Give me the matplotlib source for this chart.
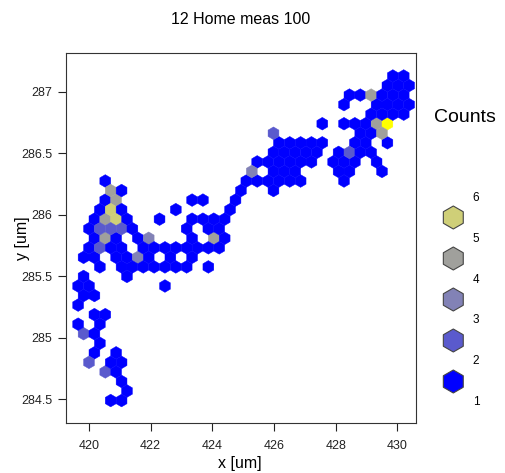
import numpy as np
import matplotlib
matplotlib.use("Agg")
import matplotlib.pyplot as plt
from matplotlib.colors import ListedColormap, BoundaryNorm
from matplotlib.patches import RegularPolygon

plt.rcParams['font.family'] = ['Liberation Sans', 'DejaVu Sans']

# hexagon cells: one row of cells per y value (um)
row_y = [287.13, 287.05, 286.97, 286.89, 286.82, 286.74, 286.66, 286.58,
         286.51, 286.43, 286.35, 286.27, 286.19, 286.12, 286.04, 285.96,
         285.88, 285.81, 285.73, 285.65, 285.57, 285.50, 285.42, 285.34,
         285.26, 285.19, 285.11, 285.03, 284.95, 284.88, 284.80, 284.72,
         284.64, 284.57, 284.49]
# x of the cells holding 1 count in each row
row_x = [
    [429.86, 430.21],
    [429.68, 430.03, 430.38],
    [428.45, 428.80, 429.50, 429.86, 430.21],
    [428.27, 429.33, 429.68, 430.03, 430.38],
    [429.15, 429.50, 429.86, 430.21],
    [427.57, 428.27, 428.62, 428.98],
    [428.80, 429.15],
    [426.16, 426.51, 426.86, 427.22, 427.57, 428.62, 428.98, 429.68],
    [425.98, 426.34, 426.69, 427.04, 427.39, 428.10, 428.80, 429.15],
    [425.46, 425.81, 426.16, 426.51, 426.86, 427.22, 427.92, 428.27, 428.62, 429.33],
    [425.98, 426.34, 426.69, 428.10, 428.45, 429.50],
    [420.53, 425.10, 425.46, 425.81, 426.16, 426.51, 426.86, 428.27],
    [421.06, 424.93, 425.98],
    [420.53, 423.34, 423.70, 424.75],
    [420.35, 421.06, 422.82, 424.58],
    [420.18, 421.23, 422.29, 423.34, 423.70, 424.05, 424.40],
    [420.00, 421.41, 423.17, 423.87, 424.22],
    [420.18, 420.88, 421.58, 423.34, 424.40],
    [420.00, 420.70, 421.06, 421.76, 422.11, 422.46, 422.82, 423.17, 423.52, 423.87, 424.22],
    [419.82, 420.18, 420.88, 421.23, 421.94, 422.64, 423.34],
    [420.35, 421.06, 421.41, 421.76, 422.11, 422.46, 422.82, 423.17, 423.87],
    [419.82, 421.23],
    [419.65, 420.00, 422.46],
    [419.82, 420.18],
    [419.65],
    [420.18, 420.53],
    [419.65, 420.35],
    [420.18],
    [420.35],
    [420.18, 420.88],
    [420.70, 421.06],
    [420.88],
    [421.06],
    [421.23],
    [420.70, 421.06],
]

# cells with more than one count
hot_x = [429.15, 429.33, 429.68, 425.98, 429.50, 428.45, 425.28, 420.70,
         420.88, 420.70, 420.53, 420.88, 420.35, 420.70, 421.06, 420.53,
         421.94, 424.05, 420.35, 421.58, 419.82, 420.00, 420.53]
hot_y = [286.97, 286.74, 286.74, 286.66, 286.66, 286.51, 286.35, 286.19,
         286.12, 286.04, 285.96, 285.96, 285.88, 285.88, 285.88, 285.81,
         285.81, 285.81, 285.73, 285.65, 285.03, 284.80, 284.72]
hot_n = [4, 4, 6, 2, 4, 2, 3, 4,
         4, 5, 4, 5, 2, 2, 2, 4,
         3, 4, 2, 3, 2, 2, 2]

count_levels = [1, 2, 3, 4, 5, 6]
level_colors = ['#0000ff', '#5a5acd', '#8282b6', '#a0a09c', '#cfcf78', '#ffff00']

x_ticks = [420, 422, 424, 426, 428, 430]
y_ticks = [284.5, 285, 285.5, 286, 286.5, 287]
y_tick_labels = ['284.5', '285', '285.5', '286', '286.5', '287']

x_um = [x for xs in row_x for x in xs] + hot_x
y_um = [y for y, xs in zip(row_y, row_x) for _ in xs] + hot_y
counts = [1] * (len(x_um) - len(hot_x)) + hot_n

W, H = 505, 473
fig = plt.figure(figsize=(W / 100, H / 100), dpi=100)
ax = fig.add_axes([66 / W, 1 - 423 / H, 350 / W, 370 / H])

cmap = ListedColormap(level_colors)
norm = BoundaryNorm(np.arange(0.5, 7.0, 1.0), cmap.N)

# hex lattice of the R plot: 0.352 um across, rows 0.0776 um apart
ax.hexbin(x_um, y_um, C=counts, reduce_C_function=np.sum,
          gridsize=(34, 22), extent=(418.768, 430.736, 283.9444, 287.3588),
          cmap=cmap, norm=norm, mincnt=1, edgecolors='face', linewidths=0.3)

ax.set_xlim(419.254, 430.607)
ax.set_ylim(284.305, 287.313)
ax.set_xticks(x_ticks)
ax.set_xticklabels([str(t) for t in x_ticks])
ax.set_yticks(y_ticks)
ax.set_yticklabels(y_tick_labels)
ax.tick_params(length=6, width=0.8, labelsize=9, colors='#222222', pad=6)
ax.tick_params(axis='y', pad=4)
for s in ax.spines.values():
    s.set_linewidth(0.8)
    s.set_color('#333333')

fig.text(241 / W, 1 - 20 / H, '12 Home meas 100', ha='center', va='center', fontsize=11.5)
fig.text(240 / W, 1 - 463 / H, 'x [um]', ha='center', va='center', fontsize=11.5)
fig.text(22 / W, 1 - 238 / H, 'y [um]', ha='center', va='center', rotation=90, fontsize=11.5)

# legend drawn in pixel units
lax = fig.add_axes([420 / W, 0, 85 / W, 1])
lax.set_xlim(420, 505)
lax.set_ylim(H, 0)
lax.axis('off')
lax.text(465, 117, 'Counts', ha='center', va='center', fontsize=14)
for k, lvl in enumerate(count_levels[4::-1]):
    lax.add_patch(RegularPolygon((453.3, 217.5 + 41 * k), numVertices=6, radius=11.5,
                                 facecolor=level_colors[lvl - 1], edgecolor='#444444', lw=0.8))
for k, lvl in enumerate(count_levels[::-1]):
    lax.text(476, 198 + 40.8 * k, str(lvl), ha='center', va='center', fontsize=8.5)

fig.savefig('out.png', dpi=100)
